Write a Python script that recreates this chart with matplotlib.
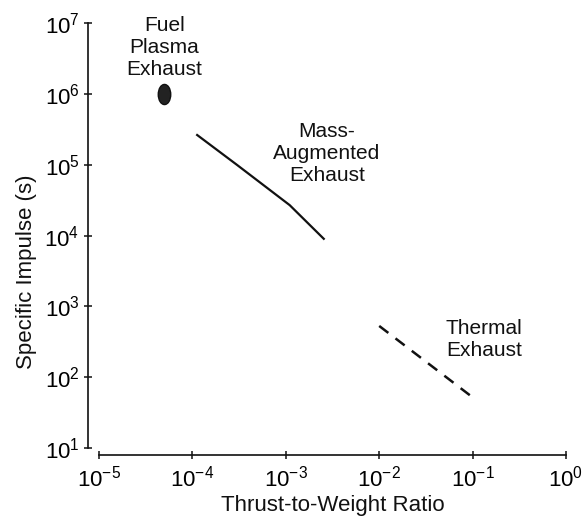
import matplotlib
matplotlib.use("Agg")
import matplotlib.pyplot as plt
import numpy as np
from matplotlib.path import Path
from matplotlib.ticker import NullLocator

plt.rcParams['font.family'] = ['Liberation Sans', 'DejaVu Sans']
plt.rcParams['mathtext.fontset'] = 'custom'
plt.rcParams['mathtext.rm'] = 'Liberation Sans'
plt.rcParams['mathtext.it'] = 'Liberation Sans:italic'
plt.rcParams['mathtext.bf'] = 'Liberation Sans:bold'

# Data
fuel_x = [5e-5]
fuel_y = [1.0e6]
mass_x = [1.1e-4, 3e-4, 1.1e-3, 2.6e-3]
mass_y = [2.7e5, 1.0e5, 2.7e4, 8.8e3]
thermal_x = [1e-2, 1e-1]
thermal_y = [530, 52]
x_ticks = [1e-5, 1e-4, 1e-3, 1e-2, 1e-1, 1e0]
y_ticks = [1e1, 1e2, 1e3, 1e4, 1e5, 1e6, 1e7]

fig = plt.figure(figsize=(5.86, 5.20), dpi=100)
ax = fig.add_axes([99/586, 1-448/520, (566-99)/586, (448-23.3)/520])
ax.set_xscale('log')
ax.set_yscale('log')
ax.set_xlim(1e-5, 1e0)
ax.set_ylim(1e1, 1e7)
ax.set_xticks(x_ticks)
ax.set_yticks(y_ticks)
ax.xaxis.set_minor_locator(NullLocator())
ax.yaxis.set_minor_locator(NullLocator())

for s in ['top', 'right']:
    ax.spines[s].set_visible(False)
ax.spines['left'].set_position(('outward', 8))
ax.spines['bottom'].set_position(('outward', 5))
for s in ['left', 'bottom']:
    ax.spines[s].set_linewidth(1.2)
    ax.spines[s].set_color('#111111')
ax.tick_params(axis='both', which='major', direction='inout', length=6,
               width=1.1, labelsize=16, color='#111111')
ax.tick_params(axis='y', pad=3)
ax.tick_params(axis='x', pad=5)

# Fuel plasma ellipse marker
circ = Path.unit_circle()
ell = Path(circ.vertices * np.array([0.62, 1.0]), circ.codes)
ax.plot(fuel_x, fuel_y, linestyle='none', marker=ell, markersize=14.5,
        color='#222222', markeredgecolor='#111111')

ax.plot(mass_x, mass_y, color='#111111', lw=1.6, solid_capstyle='butt')
ax.plot(thermal_x, thermal_y, color='#111111', lw=1.8, linestyle=(0, (4.6, 3.6)))

ax.text(5e-5, 10**(7 - (47 - 23.3)/70.7), 'Fuel\nPlasma\nExhaust', ha='center', va='center',
        fontsize=15, linespacing=1.2, color='#111111')
ax.text(10**(-5 + (327 - 99)/93.4), 10**(7 - (153 - 23.3)/70.7), 'Mass-\nAugmented\nExhaust',
        ha='center', va='center', fontsize=15, linespacing=1.2, color='#111111')
ax.text(10**(-5 + (446 - 99)/93.4), 10**(7 - (339 - 23.3)/70.7), 'Thermal\nExhaust',
        ha='left', va='center', fontsize=15, linespacing=1.2, color='#111111')

ax.set_xlabel('Thrust-to-Weight Ratio', fontsize=16, color='#111111')
ax.set_ylabel('Specific Impulse (s)', fontsize=16, color='#111111')
ax.xaxis.set_label_coords(0.5, -(506 - 448) / 424.7)
ax.xaxis.label.set_va('center')
ax.yaxis.set_label_coords(-(99 - 27) / 467, (448 - 272) / 424.7)
ax.yaxis.label.set_va('center')

fig.savefig('out.png', dpi=100)
